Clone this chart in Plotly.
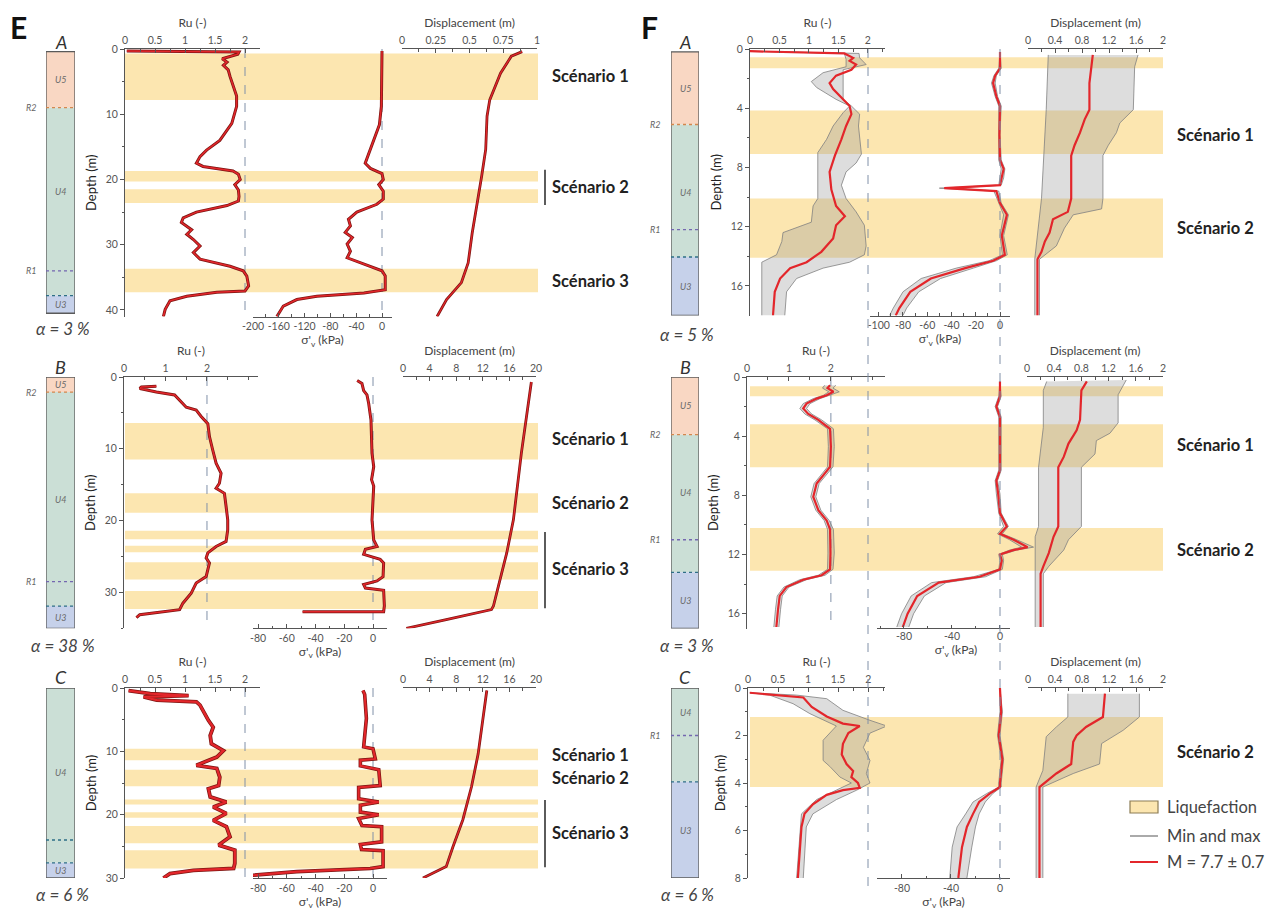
import plotly.graph_objects as go

W, H = 1266, 921
FONT = "Lato, 'Open Sans', sans-serif"
RED = "#e3262b"
DARKRED = "#7d1612"
GREY = "#808080"
YELLOW = "#FCE6B0"
ENV = "rgba(150,150,150,0.32)"
AX = "#555555"
SOIL_COL = {"U5": "#F9D7C3", "U4": "#CBDFD6", "U3": "#C6D1EA"}

# ======================= DATA =======================
# ---- Panel E, profile A ----
EA_ru_depth = [0.3, 0.45, 0.8, 1.2, 1.5, 2.0, 2.5, 3.2, 4.2, 7.2, 8.8, 11.4, 14.0, 15.5, 16.5, 17.5, 18.0, 18.7, 19.2, 20.0,
               20.8, 21.6, 22.6, 23.3, 24.0, 25.0, 25.9, 26.6, 27.7, 28.4, 29.2, 30.2, 31.2, 32.2, 33.3, 34.0, 34.8, 36.3,
               37.1, 37.3, 37.9, 38.6, 39.9, 41.0]
EA_ru = [0.03, 1.9, 1.88, 1.72, 1.62, 1.7, 1.64, 1.72, 1.75, 1.86, 1.86, 1.78, 1.58, 1.36, 1.25, 1.19, 1.3, 1.8, 1.89, 1.92,
         1.83, 1.89, 1.9, 1.89, 1.7, 1.19, 0.97, 0.94, 1.11, 1.03, 1.14, 1.25, 1.14, 1.25, 1.75, 1.97, 2.03, 2.06,
         2.0, 1.53, 1.03, 0.75, 0.67, 0.64]
EA_sig_depth = [0.3, 8.8, 11.6, 14.0, 16.5, 17.5, 18.3, 19.1, 20.0, 20.8, 21.8, 23.0, 23.8, 25.0, 26.1, 27.1, 28.1, 28.9,
                29.9, 31.0, 32.0, 33.0, 34.0, 34.8, 36.9, 37.4, 37.9, 38.4, 39.4, 41.0]
EA_sig = [0, -1, -4, -13, -23, -26, -18, 0, 2, -5, 2, 2, -8, -39, -52, -49, -57, -46, -54, -49, -54, -28, 0, 5, 5, -28,
          -101, -132, -153, -163]
EA_disp_depth = [0.4, 1.1, 3.7, 7.8, 10.3, 15.4, 19.5, 23.1, 28.2, 32.8, 35.8, 38.4, 41.0]
EA_disp = [0.89, 0.81, 0.73, 0.65, 0.63, 0.62, 0.59, 0.56, 0.52, 0.49, 0.44, 0.33, 0.26]
EA_bands = [(0.7, 7.8), (18.7, 20.3), (21.5, 23.6), (33.7, 37.3)]
EA_scen = [("Scénario 1", 4.2), ("Scénario 2", 21.1), ("Scénario 3", 35.5)]
EA_bracket = (18.5, 23.9)
EA_layers = [("U5", 0.4, 9.0), ("U4", 9.0, 37.8), ("U3", 37.8, 40.5)]
EA_marks = [("R2", 9.0), ("R1", 34.0), ("", 37.8)]

# ---- Panel E, profile B ----
EB_ru_depth = [1.3, 1.4, 1.6, 2.1, 2.5, 3.5, 4.2, 4.6, 5.5, 6.5, 8.3, 10.2, 12.0, 13.4, 14.8, 15.5, 16.2, 18.0, 19.9, 21.3,
               22.9, 23.6, 24.5, 25.2, 25.9, 27.8, 28.7, 30.1, 31.5, 32.4, 32.8, 33.1, 33.5]
EB_ru = [0.78, 0.42, 0.38, 0.78, 1.22, 1.38, 1.5, 1.74, 1.86, 2.02, 2.06, 2.14, 2.22, 2.34, 2.3, 2.22, 2.42, 2.46, 2.5, 2.5,
         2.46, 2.22, 2.02, 1.98, 2.06, 1.98, 1.74, 1.62, 1.42, 1.34, 0.78, 0.38, 0.3]
EB_sig_depth = [0.5, 0.9, 1.9, 2.5, 3.7, 6.0, 10.6, 12.5, 14.3, 15.2, 19.9, 22.7, 23.6, 24.0, 24.7, 25.4, 25.9, 27.8, 28.4,
                28.9, 29.4, 29.7, 31.9, 32.7, 32.7]
EB_sig = [-11, -7.7, -6.5, -4.2, -3, -1.4, -0.7, 0.5, -1, 0.5, -0.7, 0.5, 2.8, -5.3, -6.5, 5, 7.4, 7, 2.8, -6.5, -5.3,
          7.4, 7.9, 7.4, -49]
EB_disp_depth = [0.7, 10.6, 19.9, 24.5, 31.9, 32.4, 33.8, 35.0]
EB_disp = [19.3, 17.8, 16.6, 15.6, 13.6, 13.3, 6.5, 0.5]
EB_bands = [(6.4, 11.5), (16.2, 18.9), (21.4, 22.6), (23.5, 24.4), (25.8, 28.2), (29.8, 32.3)]
EB_scen = [("Scénario 1", 8.6), ("Scénario 2", 17.5), ("Scénario 3", 26.8)]
EB_bracket = (21.6, 32.2)
EB_layers = [("U5", 0.0, 2.1), ("U4", 2.1, 31.9), ("U3", 31.9, 35.0)]
EB_marks = [("R2", 2.1), ("R1", 28.5), ("", 31.9)]

# ---- Panel E, profile C ----
EC_ru_depth = [0.4, 0.9, 1.2, 1.4, 1.9, 2.2, 2.7, 3.8, 5.1, 6.2, 7.5, 8.8, 9.9, 10.9, 11.7, 12.2, 12.7, 14.1, 15.4, 15.9,
               17.2, 18.0, 18.8, 19.8, 20.9, 21.9, 23.5, 24.8, 25.6, 27.7, 28.5, 28.8, 29.3, 30.0]
EC_ru = [0.06, 0.42, 1.06, 0.31, 0.53, 1.19, 1.25, 1.31, 1.39, 1.47, 1.42, 1.44, 1.64, 1.53, 1.31, 1.19, 1.53, 1.58, 1.56,
         1.39, 1.42, 1.69, 1.47, 1.69, 1.47, 1.69, 1.75, 1.56, 1.83, 1.83, 1.81, 1.14, 0.75, 0.64]
EC_sig_depth = [0.4, 1.0, 4.8, 8.5, 9.3, 9.6, 11.2, 11.4, 12.3, 12.9, 15.4, 15.7, 17.5, 18.0, 18.5, 19.6, 20.0, 20.6, 21.7,
                21.9, 24.3, 24.7, 25.5, 25.7, 28.2, 28.5, 29.0, 29.6, 30.0]
EC_sig = [-7, -5.8, -4.6, -5.8, -6.5, 0, 1.6, -8.8, -8.8, 4, 5, -10, -10, 4, -8.8, -8.8, 4, -10, -7.7, 6, 6, -8.8, -8,
          7, 7, -2, -53, -86, -92]
EC_disp_depth = [0.4, 10.4, 15.6, 20.8, 25.1, 28.2, 30.0]
EC_disp = [12.6, 11.3, 10.3, 9.0, 7.5, 6.5, 3.0]
EC_bands = [(9.6, 11.4), (12.9, 15.5), (17.6, 18.4), (19.6, 20.5), (21.8, 24.5), (25.6, 28.5)]
EC_scen = [("Scénario 1", 10.5), ("Scénario 2", 14.2), ("Scénario 3", 22.9)]
EC_bracket = (17.7, 28.3)
EC_layers = [("U4", 0.0, 27.6), ("U3", 27.6, 30.0)]
EC_marks = [("", 24.0), ("", 27.6)]

# ---- Panel F, profile A ----
FA_ru_depth = [0.15, 0.3, 0.6, 0.8, 1.05, 1.4, 1.8, 2.3, 2.7, 3.4, 3.85, 4.4, 5.2, 6.1, 7.2, 8.3, 9.5, 10.6, 11.3, 11.9,
               12.8, 13.7, 14.4, 14.8, 15.5, 16.4, 18.0]
FA_ru = [0.0, 1.6, 1.75, 1.69, 1.8, 1.72, 1.46, 1.35, 1.41, 1.58, 1.69, 1.72, 1.63, 1.55, 1.44, 1.35, 1.38, 1.46, 1.61,
         1.46, 1.41, 1.21, 0.96, 0.68, 0.51, 0.42, 0.39]
FA_ru_min_depth = [0.15, 0.3, 0.7, 1.2, 1.6, 2.2, 2.6, 3.4, 3.85, 4.3, 5.2, 6.1, 7.0, 10.1, 10.6, 11.7, 12.4, 13.0, 13.9,
                   14.4, 18.0]
FA_ru_min = [0.0, 1.6, 1.63, 1.63, 1.24, 1.04, 1.13, 1.46, 1.69, 1.58, 1.41, 1.3, 1.15, 1.15, 1.07, 1.04, 0.56, 0.54, 0.45,
             0.2, 0.2]
FA_ru_max_depth = [0.15, 0.3, 0.6, 1.05, 1.4, 3.4, 3.85, 4.4, 5.2, 6.1, 7.1, 7.7, 8.3, 9.2, 10.1, 11.0, 11.9, 13.3, 13.9,
                   14.4, 14.8, 15.5, 16.4, 18.0]
FA_ru_max = [0.0, 1.85, 1.86, 1.97, 1.58, 1.58, 1.72, 1.86, 1.84, 1.86, 1.89, 1.8, 1.63, 1.55, 1.63, 1.8, 1.94, 1.97, 1.94,
             1.69, 1.24, 0.79, 0.62, 0.59]
FA_sig_depth = [0.2, 1.3, 1.8, 2.3, 3.2, 3.85, 5.8, 7.5, 8.1, 8.7, 9.2, 9.4, 9.6, 10.4, 11.2, 12.6, 13.9, 14.3, 14.8, 15.5,
                16.4, 17.5, 18.0]
FA_sig = [0, 0, -4, -5.7, -3, 0, -0.5, 0, 3, 1.5, 0, -46, -3, 0, 5.7, 1.5, 4, -5.7, -28.6, -57, -74, -83, -86]
FA_sig_min = [0, -1, -5, -7, -4, -1, -1, -1, 1, 0, -1, -50, -5, -1, 3, 0, 2, -9, -36, -65, -80, -88, -91]
FA_sig_max = [0, 1, -3, -4, -2, 1, 0, 1, 4, 3, 1, -38, -1, 1, 7, 3, 6, -3, -22, -49, -67, -77, -80]
FA_disp_depth = [0.4, 2.3, 4.1, 4.75, 5.65, 6.5, 7.2, 10.1, 11.0, 11.5, 12.4, 13.0, 13.7, 14.2, 18.0]
FA_disp = [0.96, 0.91, 0.91, 0.84, 0.77, 0.69, 0.64, 0.64, 0.59, 0.37, 0.32, 0.25, 0.2, 0.14, 0.14]
FA_disp_min_depth = [0.4, 4.1, 10.1, 14.2, 18.0]
FA_disp_min = [0.3, 0.27, 0.2, 0.1, 0.1]
FA_disp_max_depth = [0.4, 1.2, 4.1, 5.0, 5.65, 6.5, 7.2, 10.1, 10.8, 11.2, 12.1, 13.3, 14.2, 18.0]
FA_disp_max = [1.63, 1.58, 1.56, 1.36, 1.31, 1.19, 1.11, 1.11, 1.09, 0.67, 0.54, 0.42, 0.17, 0.17]
FA_bands = [(0.55, 1.3), (4.15, 7.1), (10.1, 14.1)]
FA_scen = [("Scénario 1", 5.8), ("Scénario 2", 12.1)]
FA_layers = [("U5", 0.2, 5.1), ("U4", 5.1, 14.05), ("U3", 14.05, 18.0)]
FA_marks = [("R2", 5.1), ("R1", 12.2), ("", 14.05)]

# ---- Panel F, profile B ----
FB_ru_depth = [0.56, 0.75, 1.0, 1.24, 1.46, 1.8, 2.13, 2.5, 2.9, 3.5, 4.7, 6.07, 6.5, 7.2, 8.1, 9.0, 9.7, 10.3, 11.9,
               13.0, 13.4, 13.7, 14.2, 14.8, 15.7, 16.9]
FB_ru = [1.98, 1.92, 2.06, 1.9, 1.66, 1.42, 1.34, 1.46, 1.7, 1.98, 2.0, 1.98, 1.86, 1.66, 1.58, 1.7, 1.9, 1.98, 1.99, 1.98,
         1.78, 1.34, 0.94, 0.78, 0.74, 0.7]
FB_ru_min = [1.85, 1.8, 1.95, 1.82, 1.58, 1.34, 1.26, 1.38, 1.62, 1.92, 1.94, 1.92, 1.8, 1.6, 1.52, 1.64, 1.84, 1.92, 1.93,
             1.92, 1.7, 1.26, 0.88, 0.72, 0.68, 0.64]
FB_ru_max = [2.12, 2.05, 2.2, 1.98, 1.74, 1.5, 1.42, 1.54, 1.78, 2.06, 2.08, 2.05, 1.92, 1.72, 1.64, 1.76, 1.96, 2.06, 2.08,
             2.05, 1.86, 1.42, 1.0, 0.84, 0.8, 0.76]
FB_sig_depth = [0.3, 1.3, 2.0, 2.7, 6.3, 7.0, 7.9, 9.2, 10.1, 10.6, 11.0, 11.5, 11.7, 12.0, 12.4, 13.0, 13.5, 13.9, 14.8,
                16.0, 16.9]
FB_sig = [0, 0, -3, 0, 0, -3, -1.5, 0, 5.7, 0, 11.4, 23, 11, 0, 1.5, 0, -17, -51, -69, -77, -81]
FB_sig_min = [0, -1, -4, -1, -1, -4, -3, -1, 3, -2, 8, 18, 8, -1, 0, -1, -22, -57, -74, -82, -86]
FB_sig_max = [0, 1, -2, 1, 1, -2, 0, 1, 7, 2, 14, 28, 14, 2, 3, 2, -12, -45, -63, -72, -76]
FB_disp_depth = [0.3, 0.9, 2.9, 3.6, 4.5, 5.4, 6.1, 10.1, 10.8, 11.9, 12.8, 13.3, 16.9]
FB_disp = [0.88, 0.8, 0.78, 0.73, 0.61, 0.54, 0.46, 0.46, 0.39, 0.32, 0.24, 0.2, 0.2]
FB_disp_min_depth = [0.3, 0.9, 3.4, 6.1, 10.1, 10.8, 16.9]
FB_disp_min = [0.29, 0.24, 0.24, 0.17, 0.17, 0.12, 0.12]
FB_disp_max_depth = [0.2, 1.2, 3.1, 3.8, 4.3, 5.2, 6.1, 10.1, 11.0, 11.7, 12.8, 13.3, 16.9]
FB_disp_max = [1.46, 1.34, 1.34, 1.22, 1.02, 1.0, 0.8, 0.8, 0.61, 0.54, 0.32, 0.24, 0.24]
FB_bands = [(0.63, 1.3), (3.2, 6.1), (10.2, 13.1)]
FB_scen = [("Scénario 1", 4.6), ("Scénario 2", 11.7)]
FB_layers = [("U5", 0.0, 3.9), ("U4", 3.9, 13.2), ("U3", 13.2, 17.0)]
FB_marks = [("R2", 3.9), ("R1", 11.0), ("", 13.2)]

# ---- Panel F, profile C ----
FC_ru_depth = [0.2, 0.3, 0.4, 0.8, 1.2, 1.5, 1.6, 1.9, 2.35, 2.8, 3.2, 3.5, 3.75, 4.0, 4.2, 4.3, 4.5, 4.9, 5.3, 5.85, 7.0, 8.0]
FC_ru = [0.03, 0.53, 0.92, 1.06, 1.31, 1.58, 1.86, 1.67, 1.58, 1.56, 1.64, 1.75, 1.72, 1.83, 1.86, 1.58, 1.31, 1.08, 0.94,
         0.89, 0.86, 0.83]
FC_ru_min_depth = [0.2, 0.3, 0.66, 1.08, 1.6, 2.2, 3.05, 3.3, 3.75, 4.0, 4.3, 4.7, 5.3, 8.0]
FC_ru_min = [0.03, 0.36, 0.75, 1.03, 1.47, 1.25, 1.25, 1.36, 1.53, 1.72, 1.47, 1.14, 0.89, 0.81]
FC_ru_max_depth = [0.2, 0.3, 0.45, 0.94, 1.36, 1.6, 1.9, 2.5, 3.05, 3.6, 4.0, 4.3, 4.7, 5.3, 5.85, 8.0]
FC_ru_max = [0.03, 0.81, 1.31, 1.58, 2.03, 2.31, 2.03, 1.92, 2.03, 1.97, 2.03, 1.81, 1.47, 1.08, 0.97, 0.92]
FC_sig_depth = [0, 1, 2, 3, 4, 4.17, 4.45, 4.8, 5.3, 5.85, 6.7, 8.0]
FC_sig = [0, 1, -1, 2, 0, 0, -8.4, -17, -22, -27, -31, -34]
FC_sig_min = [0, 0, -2, 1, -1, -1, -11, -22, -28, -35, -39, -41]
FC_sig_max = [0, 2, 0, 3, 1, 1, -6, -12, -17, -20, -23, -27]
FC_disp_depth = [0.24, 1.22, 1.64, 2.0, 2.27, 3.2, 3.6, 4.17, 8.0]
FC_disp = [1.14, 1.11, 0.86, 0.72, 0.67, 0.64, 0.42, 0.17, 0.17]
FC_disp_min_depth = [0.24, 1.22, 1.64, 2.05, 3.47, 4.17, 8.0]
FC_disp_min = [0.59, 0.59, 0.42, 0.27, 0.22, 0.12, 0.12]
FC_disp_max_depth = [0.24, 1.22, 1.78, 2.34, 3.2, 3.6, 4.17, 8.0]
FC_disp_max = [1.65, 1.65, 1.41, 1.09, 1.06, 0.67, 0.22, 0.22]
FC_bands = [(1.22, 4.17)]
FC_scen = [("Scénario 2", 2.7)]
FC_layers = [("U4", 0.0, 3.95), ("U3", 3.95, 8.0)]
FC_marks = [("R1", 2.0), ("", 3.95)]

# Tick values
RU_T05 = [0, 0.5, 1, 1.5, 2]
RU_M05 = [0.25, 0.75, 1.25, 1.75, 2.25]
RU_T1 = [0, 1, 2]
RU_M1 = [0.5, 1.5, 2.5, 3]
SIG_EA = [-200, -160, -120, -80, -40, 0]
SIG_EA_M = [-180, -140, -100, -60, -20]
SIG_E = [-80, -60, -40, -20, 0]
SIG_E_M = [-70, -50, -30, -10]
SIG_FA = [-100, -80, -60, -40, -20, 0]
SIG_FA_M = [-90, -70, -50, -30, -10]
SIG_F = [-80, -40, 0]
SIG_F_M = [-100, -60, -20]
DISP_EA = [0, 0.25, 0.5, 0.75, 1]
DISP_EA_M = [0.125, 0.375, 0.625, 0.875]
DISP_E = [0, 4, 8, 12, 16, 20]
DISP_E_M = [2, 6, 10, 14, 18]
DISP_F = [0, 0.4, 0.8, 1.2, 1.6, 2]
DISP_F_M = [0.2, 0.6, 1.0, 1.4, 1.8]

# ======================= LAYOUT SPEC =======================
E_COMMON = dict(soil_x=(46, 75), band_x=(125, 538), scen_x=550, bracket_x=545, rlab_x=31)
F_COMMON = dict(soil_x=(671, 699), band_x=(750, 1163), scen_x=1175, bracket_x=None, rlab_x=655)

ROWS = [
    dict(E_COMMON, letter="A", top=49, bot=316.5, dmax=41, alpha="α = 3 %", alpha_y=329, letter_y=42,
         dep_tv=[0, 10, 20, 30, 40], dep_m=[5, 15, 25, 35],
         ru_x=(125, 260), ru_rng=[0, 2.25], ru_tv=RU_T05, ru_m=RU_M05,
         sig_x=(253, 392), sig_rng=[-200, 15.5], sig_tv=SIG_EA, sig_m=SIG_EA_M,
         disp_x=(402, 537), disp_rng=[0, 1], disp_tv=DISP_EA, disp_m=DISP_EA_M,
         ru=(EA_ru_depth, EA_ru), sig=(EA_sig_depth, EA_sig), disp=(EA_disp_depth, EA_disp),
         bands=EA_bands, scen=EA_scen, bracket=EA_bracket, layers=EA_layers, marks=EA_marks,
         ru_ref=True, sig_ref=True, lab_at={"U4": 21.8}),
    dict(E_COMMON, letter="B", top=377, bot=628.3, dmax=35, alpha="α = 38 %", alpha_y=645, letter_y=367,
         dep_tv=[0, 10, 20, 30], dep_m=[5, 15, 25, 35],
         ru_x=(124, 258), ru_rng=[0, 3.23], ru_tv=RU_T1, ru_m=RU_M1,
         sig_x=(253, 387), sig_rng=[-83.5, 9.74], sig_tv=SIG_E, sig_m=SIG_E_M,
         disp_x=(403, 536), disp_rng=[0, 20], disp_tv=DISP_E, disp_m=DISP_E_M,
         ru=(EB_ru_depth, EB_ru), sig=(EB_sig_depth, EB_sig), disp=(EB_disp_depth, EB_disp),
         bands=EB_bands, scen=EB_scen, bracket=EB_bracket, layers=EB_layers, marks=EB_marks,
         ru_ref=True, sig_ref=True, lab_at={}),
    dict(E_COMMON, letter="C", top=688, bot=878, dmax=30, alpha="α = 6 %", alpha_y=894, letter_y=677,
         dep_tv=[0, 10, 20, 30], dep_m=[5, 15, 25],
         ru_x=(125, 260), ru_rng=[0, 2.25], ru_tv=RU_T05, ru_m=RU_M05,
         sig_x=(253, 387), sig_rng=[-83.5, 9.74], sig_tv=SIG_E, sig_m=SIG_E_M,
         disp_x=(403, 536), disp_rng=[0, 20], disp_tv=DISP_E, disp_m=DISP_E_M,
         ru=(EC_ru_depth, EC_ru), sig=(EC_sig_depth, EC_sig), disp=(EC_disp_depth, EC_disp),
         bands=EC_bands, scen=EC_scen, bracket=EC_bracket, layers=EC_layers, marks=EC_marks,
         ru_ref=True, sig_ref=True, thick=True, lab_at={"U4": 13.3}),
    dict(F_COMMON, letter="A", top=49, bot=315.5, dmax=18, alpha="α = 5 %", alpha_y=335, letter_y=42,
         dep_tv=[0, 4, 8, 12, 16], dep_m=[2, 6, 10, 14],
         ru_x=(750, 885), ru_rng=[0, 2.29], ru_tv=RU_T05, ru_m=RU_M05,
         sig_x=(870, 1010), sig_rng=[-107.2, 8.25], sig_tv=SIG_FA, sig_m=SIG_FA_M,
         disp_x=(1028, 1163), disp_rng=[0, 2], disp_tv=DISP_F, disp_m=DISP_F_M,
         ru=(FA_ru_depth, FA_ru), sig=(FA_sig_depth, FA_sig), disp=(FA_disp_depth, FA_disp),
         ru_env=((FA_ru_min_depth, FA_ru_min), (FA_ru_max_depth, FA_ru_max)),
         sig_env=((FA_sig_depth, FA_sig_min), (FA_sig_depth, FA_sig_max)),
         disp_env=((FA_disp_min_depth, FA_disp_min), (FA_disp_max_depth, FA_disp_max)),
         bands=FA_bands, scen=FA_scen, bracket=None, layers=FA_layers, marks=FA_marks,
         ru_ref=False, sig_ref=False, lab_at={"U4": 9.7}),
    dict(F_COMMON, letter="B", top=377, bot=628.5, dmax=17, alpha="α = 3 %", alpha_y=645, letter_y=367,
         dep_tv=[0, 4, 8, 12, 16], dep_m=[2, 6, 10, 14],
         ru_x=(747, 885), ru_rng=[0, 3.29], ru_tv=RU_T1, ru_m=RU_M1,
         sig_x=(877, 1035), sig_rng=[-102.5, 29.2], sig_tv=SIG_F, sig_m=SIG_F_M, sig_line=(877, 1010),
         disp_x=(1027, 1163), disp_rng=[0, 2], disp_tv=DISP_F, disp_m=DISP_F_M,
         ru=(FB_ru_depth, FB_ru), sig=(FB_sig_depth, FB_sig), disp=(FB_disp_depth, FB_disp),
         ru_env=((FB_ru_depth, FB_ru_min), (FB_ru_depth, FB_ru_max)),
         sig_env=((FB_sig_depth, FB_sig_min), (FB_sig_depth, FB_sig_max)),
         disp_env=((FB_disp_min_depth, FB_disp_min), (FB_disp_max_depth, FB_disp_max)),
         bands=FB_bands, scen=FB_scen, bracket=None, layers=FB_layers, marks=FB_marks,
         ru_ref=True, sig_ref=False, lab_at={"U4": 7.8}),
    dict(F_COMMON, letter="C", top=688, bot=878, dmax=8, alpha="α = 6 %", alpha_y=894, letter_y=677,
         dep_tv=[0, 2, 4, 6, 8], dep_m=[1, 3, 5, 7],
         ru_x=(748, 885), ru_rng=[0, 2.28], ru_tv=RU_T05, ru_m=RU_M05,
         sig_x=(877, 1010), sig_rng=[-100.4, 8.2], sig_tv=SIG_F, sig_m=SIG_F_M,
         disp_x=(1028, 1163), disp_rng=[0, 2], disp_tv=DISP_F, disp_m=DISP_F_M,
         ru=(FC_ru_depth, FC_ru), sig=(FC_sig_depth, FC_sig), disp=(FC_disp_depth, FC_disp),
         ru_env=((FC_ru_min_depth, FC_ru_min), (FC_ru_max_depth, FC_ru_max)),
         sig_env=((FC_sig_depth, FC_sig_min), (FC_sig_depth, FC_sig_max)),
         disp_env=((FC_disp_min_depth, FC_disp_min), (FC_disp_max_depth, FC_disp_max)),
         bands=FC_bands, scen=FC_scen, bracket=None, layers=FC_layers, marks=FC_marks,
         ru_ref=False, sig_ref=False, lab_at={"U4": 1.05, "U3": 6.0}),
]


# ======================= BUILD =======================
def fx(p):
    return p / W


def fy(p):
    return 1 - p / H


def fmt(v):
    return "%g" % v


fig = go.Figure()
layout = {}
shapes = []
annos = []
count = [0]


def new_axes(xdom, top, bot, xcfg, ycfg):
    count[0] += 1
    n = count[0]
    s = "" if n == 1 else str(n)
    base = dict(showgrid=False, zeroline=False, fixedrange=True, automargin=False)
    xc = dict(base)
    xc.update(xcfg)
    yc = dict(base)
    yc.update(ycfg)
    xc.update(domain=[fx(xdom[0]), fx(xdom[1])], anchor="y" + s)
    yc.update(domain=[fy(bot), fy(top)], anchor="x" + s)
    layout["xaxis" + s] = xc
    layout["yaxis" + s] = yc
    return "x" + s, "y" + s


def value_axis(rng, tv, tm, side, title, showline=True, standoff=3):
    return dict(range=rng, side=side, showline=showline, linecolor=AX, linewidth=1,
                tickmode="array", tickvals=tv, ticktext=[fmt(v) for v in tv],
                ticks="inside", ticklen=4, tickwidth=1, tickcolor=AX,
                tickfont=dict(size=10.5, color="#555", family=FONT),
                minor=dict(tickmode="array", tickvals=tm, ticks="inside", ticklen=2.5, tickcolor=AX),
                title=dict(text=title, font=dict(size=12, color="#444", family=FONT), standoff=standoff))


def hidden_y(dmax):
    return dict(range=[dmax, 0], visible=False)


def line(xa, ya, x, y, color, width, dash=None, fill=None, fillcolor=None):
    fig.add_trace(go.Scatter(x=x, y=y, xaxis=xa, yaxis=ya, mode="lines",
                             line=dict(color=color, width=width, dash=dash),
                             fill=fill, fillcolor=fillcolor, showlegend=False, hoverinfo="skip"))


def mark_color(lbl):
    if lbl == "R2":
        return "#d4874e"
    if lbl == "R1":
        return "#7467b0"
    return "#2e6f86"


for row in ROWS:
    dmax = row["dmax"]
    top, bot = row["top"], row["bot"]

    # ---------- soil column ----------
    sx, sy = new_axes(row["soil_x"], top, bot, dict(range=[0, 1], visible=False), hidden_y(dmax))
    for name, t, b in row["layers"]:
        fig.add_trace(go.Bar(x=[0.5], y=[b - t], base=[t], width=[1], xaxis=sx, yaxis=sy,
                             marker=dict(color=SOIL_COL[name], line=dict(width=0)),
                             showlegend=False, hoverinfo="skip"))
        annos.append(dict(xref=sx, yref=sy, x=0.5, y=row["lab_at"].get(name, (t + b) / 2),
                          text="<i>%s</i>" % name, showarrow=False,
                          font=dict(size=9, color="#6a6a6a", family=FONT)))
    shapes.append(dict(type="rect", xref=sx, yref=sy, x0=0, x1=1, y0=row["layers"][0][1], y1=row["layers"][-1][2],
                       line=dict(color="#5a5a5a", width=1.3), fillcolor="rgba(0,0,0,0)"))
    for lbl, d in row["marks"]:
        shapes.append(dict(type="line", xref=sx, yref=sy, x0=0, x1=1, y0=d, y1=d,
                           line=dict(color=mark_color(lbl), width=1.3, dash="dot")))
        if lbl:
            annos.append(dict(xref="paper", yref=sy, x=fx(row["rlab_x"]), y=d, text="<i>%s</i>" % lbl,
                              showarrow=False, font=dict(size=9, color="#666", family=FONT)))
    cx = (row["soil_x"][0] + row["soil_x"][1]) / 2
    annos.append(dict(xref="paper", yref="paper", x=fx(cx), y=fy(row["letter_y"]), text="<i>%s</i>" % row["letter"],
                      showarrow=False, font=dict(size=18, color="#333", family=FONT)))
    annos.append(dict(xref="paper", yref="paper", x=fx(cx + 2), y=fy(row["alpha_y"]), text="<i>%s</i>" % row["alpha"],
                      showarrow=False, font=dict(size=17, color="#444", family=FONT)))

    # ---------- Ru ----------
    xcfg = value_axis(row["ru_rng"], row["ru_tv"], row["ru_m"], "top", "Ru (-)")
    ycfg = dict(range=[dmax, 0], showline=True, linecolor=AX, linewidth=1,
                tickmode="array", tickvals=row["dep_tv"], ticktext=[fmt(v) for v in row["dep_tv"]],
                ticks="outside", ticklen=4, tickcolor=AX, tickfont=dict(size=10.5, color="#555", family=FONT),
                minor=dict(tickmode="array", tickvals=row["dep_m"], ticks="outside", ticklen=2.5, tickcolor=AX),
                title=dict(text="Depth (m)", font=dict(size=13, color="#222", family=FONT), standoff=6))
    rx, ry = new_axes(row["ru_x"], top, bot, xcfg, ycfg)

    # liquefaction bands (share the depth scale of this row)
    for d0, d1 in row["bands"]:
        shapes.append(dict(type="rect", xref="paper", yref=ry, x0=fx(row["band_x"][0]), x1=fx(row["band_x"][1]),
                           y0=d0, y1=d1, fillcolor=YELLOW, line=dict(width=0), layer="below"))
    for txt, d in row["scen"]:
        annos.append(dict(xref="paper", yref=ry, x=fx(row["scen_x"]), y=d, xanchor="left", text="<b>%s</b>" % txt,
                          showarrow=False, font=dict(size=16.5, color="#222", family=FONT)))
    if row["bracket"]:
        b0, b1 = row["bracket"]
        shapes.append(dict(type="line", xref="paper", yref=ry, x0=fx(row["bracket_x"]), x1=fx(row["bracket_x"]),
                           y0=b0, y1=b1, line=dict(color="#333", width=1.6)))
    if row["ru_ref"]:
        line(rx, ry, [2, 2], [0, dmax], "#8090a8", 1, dash="dash")
    if "ru_env" in row:
        (d_lo, v_lo), (d_hi, v_hi) = row["ru_env"]
        line(rx, ry, v_lo, d_lo, GREY, 0.8)
        line(rx, ry, v_hi, d_hi, GREY, 0.8, fill="tonextx", fillcolor=ENV)
        line(rx, ry, row["ru"][1], row["ru"][0], RED, 2.2)
    else:
        w = 3.8 if row.get("thick") else 3.0
        line(rx, ry, row["ru"][1], row["ru"][0], DARKRED, w)
        line(rx, ry, row["ru"][1], row["ru"][0], RED, w - 1.5)

    # ---------- sigma'v ----------
    show_sig_line = "sig_line" not in row
    xcfg = value_axis(row["sig_rng"], row["sig_tv"], row["sig_m"], "bottom", "σ'<sub>v</sub> (kPa)",
                      showline=show_sig_line, standoff=2)
    gx, gy = new_axes(row["sig_x"], top, bot, xcfg, hidden_y(dmax))
    if not show_sig_line:
        shapes.append(dict(type="line", xref="paper", yref="paper", x0=fx(row["sig_line"][0]),
                           x1=fx(row["sig_line"][1]), y0=fy(bot), y1=fy(bot), line=dict(color=AX, width=1)))
    if row["sig_ref"]:
        line(gx, gy, [0, 0], [0, dmax], "#8090a8", 1, dash="dash")
    if "sig_env" in row:
        (d_lo, v_lo), (d_hi, v_hi) = row["sig_env"]
        line(gx, gy, v_lo, d_lo, GREY, 0.8)
        line(gx, gy, v_hi, d_hi, GREY, 0.8, fill="tonextx", fillcolor=ENV)
        line(gx, gy, row["sig"][1], row["sig"][0], RED, 2.2)
    else:
        w = 3.6 if row.get("thick") else 3.0
        line(gx, gy, row["sig"][1], row["sig"][0], DARKRED, w)
        line(gx, gy, row["sig"][1], row["sig"][0], RED, w - 1.5)

    # ---------- displacement ----------
    xcfg = value_axis(row["disp_rng"], row["disp_tv"], row["disp_m"], "top", "Displacement (m)")
    dx, dy = new_axes(row["disp_x"], top, bot, xcfg, hidden_y(dmax))
    if "disp_env" in row:
        (d_lo, v_lo), (d_hi, v_hi) = row["disp_env"]
        line(dx, dy, v_lo, d_lo, GREY, 0.8)
        line(dx, dy, v_hi, d_hi, GREY, 0.8, fill="tonextx", fillcolor=ENV)
        line(dx, dy, row["disp"][1], row["disp"][0], RED, 2.2)
    else:
        line(dx, dy, row["disp"][1], row["disp"][0], DARKRED, 2.8)
        line(dx, dy, row["disp"][1], row["disp"][0], RED, 1.3)

# long dashed guide lines of panel F
shapes.append(dict(type="line", xref="paper", yref="paper", x0=fx(868), x1=fx(868), y0=fy(49), y1=fy(895),
                   line=dict(color="#8090a8", width=1, dash="dash")))
shapes.append(dict(type="line", xref="paper", yref="paper", x0=fx(1000), x1=fx(1000), y0=fy(49), y1=fy(880),
                   line=dict(color="#8090a8", width=1, dash="dash")))

# panel letters
annos.append(dict(xref="paper", yref="paper", x=fx(18), y=fy(27), text="<b>E</b>", showarrow=False,
                  font=dict(size=30, color="#111", family=FONT)))
annos.append(dict(xref="paper", yref="paper", x=fx(649), y=fy(27), text="<b>F</b>", showarrow=False,
                  font=dict(size=30, color="#111", family=FONT)))

# legend (drawn manually)
shapes.append(dict(type="rect", xref="paper", yref="paper", x0=fx(1130), x1=fx(1158), y0=fy(813), y1=fy(801),
                   fillcolor=YELLOW, line=dict(color="#8c7c55", width=1.2)))
shapes.append(dict(type="line", xref="paper", yref="paper", x0=fx(1130), x1=fx(1158), y0=fy(836), y1=fy(836),
                   line=dict(color="#aaaaaa", width=2)))
shapes.append(dict(type="line", xref="paper", yref="paper", x0=fx(1130), x1=fx(1158), y0=fy(862), y1=fy(862),
                   line=dict(color=RED, width=2)))
for txt, yy in [("Liquefaction", 807), ("Min and max", 836), ("M = 7.7 ± 0.7", 862)]:
    annos.append(dict(xref="paper", yref="paper", x=fx(1165), y=fy(yy), xanchor="left", text=txt, showarrow=False,
                      font=dict(size=16.5, color="#444", family=FONT)))

for a in annos:
    a.setdefault("xanchor", "center")
    a.setdefault("yanchor", "middle")

fig.update_layout(**layout)
fig.update_layout(width=W, height=H, margin=dict(l=0, r=0, t=0, b=0, autoexpand=False), paper_bgcolor="white",
                  plot_bgcolor="rgba(0,0,0,0)", barmode="overlay", showlegend=False,
                  shapes=shapes, annotations=annos, font=dict(family=FONT))
fig.write_html("out.html", config={"displayModeBar": False},
               post_script="document.body.style.margin='0';document.body.style.padding='0';")
